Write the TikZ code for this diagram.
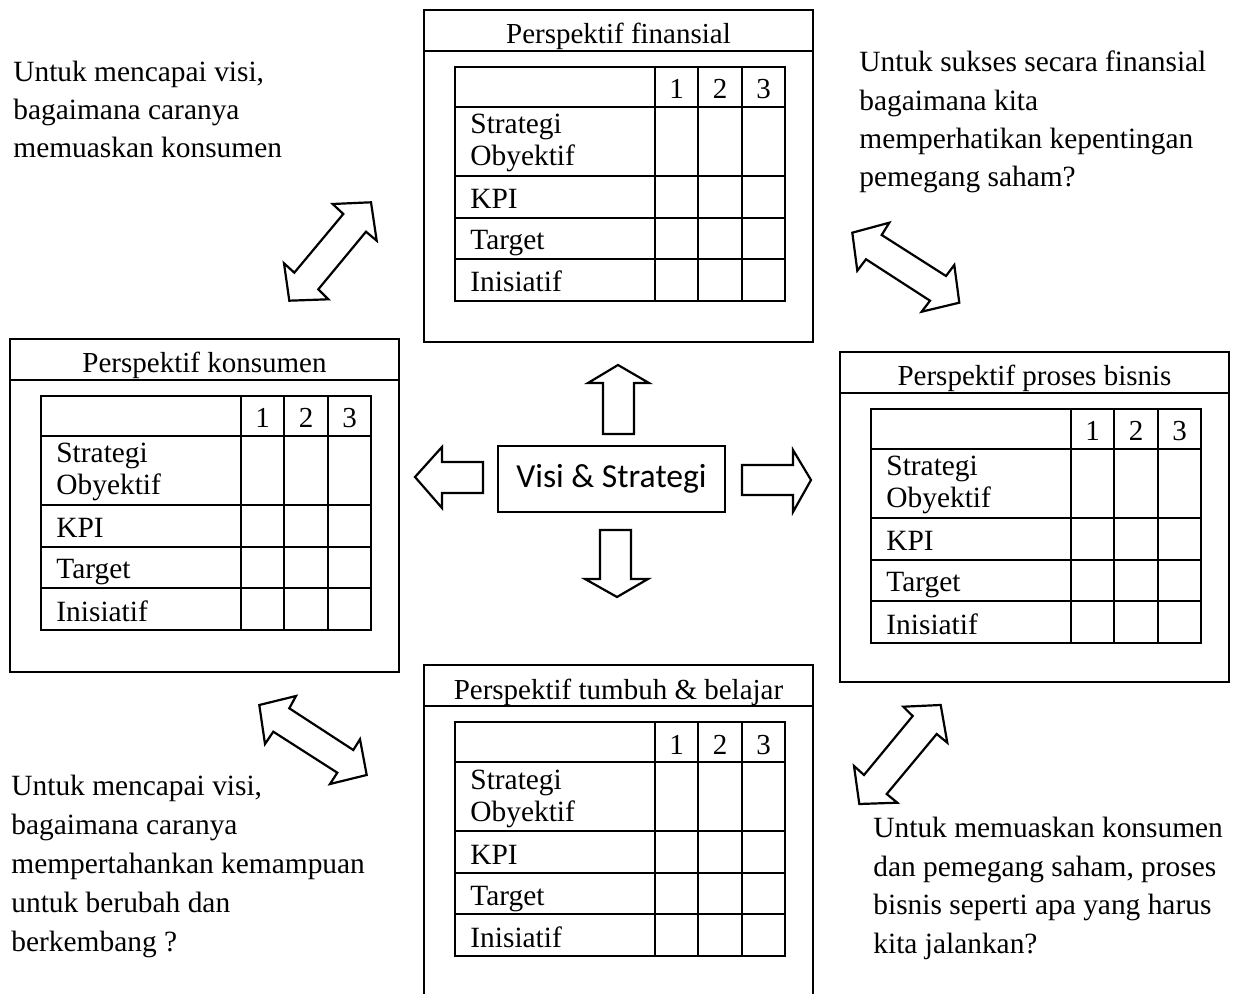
\documentclass[tikz,border=0pt]{standalone}
\usepackage{fontspec}
\setmainfont{Liberation Serif}
\newfontfamily\carlitofont{Carlito}
\tikzset{
  ln/.style={draw=black, line width=1.1pt},
  blk/.style={draw=black, fill=white, line width=1.1pt, line join=miter},
  txt/.style={anchor=base west, inner sep=0pt, font=\fontsize{14.7}{18}\selectfont},
  ttl/.style={anchor=base, inner sep=0pt, font=\fontsize{14.5}{18}\selectfont},
}
% #1 name, #2 left, #3 top, #4 bottom, #5 title
\newcommand\perspbox[5]{%
  \draw[ln] (#2,#3) rectangle (#2+389,#4);
  \draw[ln] (#2,#3+41) -- (#2+389,#3+41);
  \node[ttl] (#1-title) at (#2+194.5,#3+34) {#5};
  \begin{scope}[shift={(#2+31,#3+57)}]
    \draw[ln] (0,0) rectangle (330,234);
    \draw[ln] (0,40)--(330,40) (0,109)--(330,109) (0,151)--(330,151) (0,192)--(330,192);
    \draw[ln] (200,0)--(200,234) (243,0)--(243,234) (287,0)--(287,234);
    \node[ttl] (#1-c1) at (221.5,32) {1};
    \node[ttl] (#1-c2) at (265,32) {2};
    \node[ttl] (#1-c3) at (308.5,32) {3};
    \node[txt] (#1-r1a) at (15,67) {Strategi};
    \node[txt] (#1-r1b) at (15,99) {Obyektif};
    \node[txt] (#1-r2) at (15,142) {KPI};
    \node[txt] (#1-r3) at (15,183) {Target};
    \node[txt] (#1-r4) at (15,225) {Inisiatif};
  \end{scope}
}
\begin{document}
\begin{tikzpicture}[x=0.5pt,y=-0.5pt]
\useasboundingbox (0,0) rectangle (1243,994);
\clip (0,0) rectangle (1243,994);

% perspective boxes
\perspbox{fin}{424}{10}{342}{Perspektif finansial}
\perspbox{kon}{10}{339}{672}{Perspektif konsumen}
\perspbox{pro}{840}{352}{682}{Perspektif proses bisnis}
\perspbox{tum}{424}{665}{1010}{Perspektif tumbuh \& belajar}

% centre
\node[draw=black, line width=1.1pt, inner sep=0pt, minimum width=113.5pt, minimum height=33pt,
      font=\carlitofont\fontsize{16.8}{20}\selectfont] (visi) at (611.5,479) {Visi \& Strategi};

% block arrows
\draw[blk] (603,434) -- (603,383) -- (588,383) -- (618,365) -- (649,383) -- (634,383) -- (634,434) -- cycle;
\draw[blk] (600,530) -- (631,530) -- (631,579) -- (648,579) -- (617,597) -- (585,579) -- (600,579) -- cycle;
\draw[blk] (483,462) -- (442,462) -- (442,447) -- (415,477) -- (442,508) -- (442,493) -- (483,493) -- cycle;
\draw[blk] (742,465) -- (793,465) -- (793,450) -- (811,480) -- (793,512) -- (793,495) -- (742,495) -- cycle;

% double diagonal arrows
\draw[blk] (332.7,204) -- (371,202.3) -- (376.7,240.7) -- (366,231.7) -- (318.3,289.3) -- (328.3,299.3)
  -- (289.3,300.7) -- (284,263.3) -- (294.3,272.7) -- (343.3,214) -- cycle;
\draw[blk] (852.3,232.7) -- (889.3,222.7) -- (881.7,235) -- (946,276) -- (954.3,265) -- (959.3,302.7)
  -- (921.7,311.7) -- (930,300.7) -- (866,259.3) -- (857.3,270.7) -- cycle;
\draw[blk] (259.3,705) -- (296,696) -- (289.3,708.3) -- (353.3,750) -- (360,739.3) -- (366.7,775)
  -- (330,784) -- (337.3,772.7) -- (273.3,731.7) -- (265,744) -- cycle;
\draw[blk] (903.3,706.7) -- (940.7,705) -- (947.3,742.7) -- (936.7,734) -- (886.7,794) -- (897.3,802.7)
  -- (859.3,804) -- (854,766) -- (864,775) -- (912.7,716) -- cycle;

% questions
\node[txt] (q1a) at (13,82) {Untuk mencapai visi,};
\node[txt] (q1b) at (13,120) {bagaimana caranya};
\node[txt] (q1c) at (13,158) {memuaskan konsumen};

\node[txt] (q2a) at (859,72) {Untuk sukses secara finansial};
\node[txt] (q2b) at (859,111) {bagaimana kita};
\node[txt] (q2c) at (859,149) {memperhatikan kepentingan};
\node[txt] (q2d) at (859,187) {pemegang saham?};

\node[txt] (q3a) at (11,795) {Untuk mencapai visi,};
\node[txt] (q3b) at (11,834) {bagaimana caranya};
\node[txt] (q3c) at (11,873) {mempertahankan kemampuan};
\node[txt] (q3d) at (11,912) {untuk berubah dan};
\node[txt] (q3e) at (11,951) {berkembang ?};

\node[txt] (q4a) at (873,837) {Untuk memuaskan konsumen};
\node[txt] (q4b) at (873,876) {dan pemegang saham, proses};
\node[txt] (q4c) at (873,914) {bisnis seperti apa yang harus};
\node[txt] (q4d) at (873,953) {kita jalankan?};
\end{tikzpicture}
\end{document}
